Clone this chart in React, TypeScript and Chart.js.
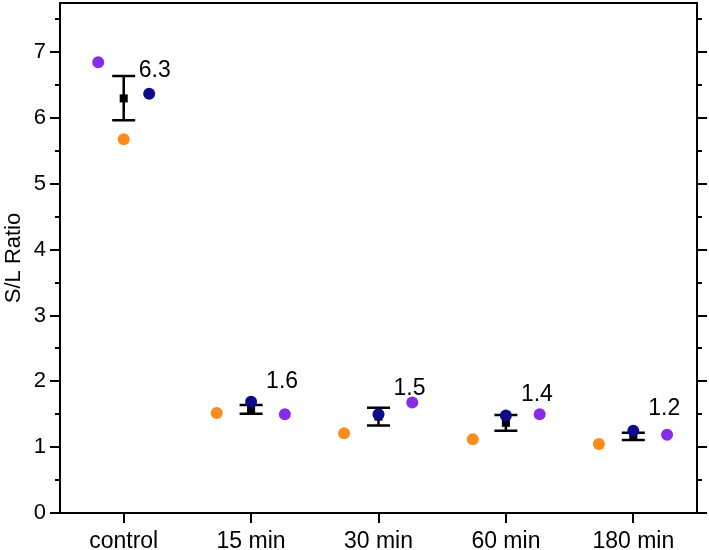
import React, { useEffect, useRef } from 'react';
import { Chart, registerables } from 'chart.js';

Chart.register(...registerables);

const categories = ['control', '15 min', '30 min', '60 min', '180 min'];
const meanValues = [6.3, 1.575, 1.465, 1.37, 1.165];
const errLow = [5.97, 1.51, 1.33, 1.25, 1.11];
const errHigh = [6.64, 1.64, 1.6, 1.49, 1.22];
const meanLabels = ['6.3', '1.6', '1.5', '1.4', '1.2'];
const orangeValues = [5.68, 1.52, 1.21, 1.12, 1.05];
const blueValues = [6.37, 1.69, 1.5, 1.48, 1.25];
const purpleValues = [6.85, 1.5, 1.68, 1.5, 1.19];
const orangeJitter = [0, -0.27, -0.27, -0.26, -0.27];
const blueJitter = [0.2, 0, 0, 0, 0];
const purpleJitter = [-0.2, 0.265, 0.265, 0.265, 0.265];
const yMajorTicks = [0, 1, 2, 3, 4, 5, 6, 7];
const yMinorTicks = [0.5, 1.5, 2.5, 3.5, 4.5, 5.5, 6.5, 7.5];
const yMin = 0;
const yMax = 7.75;

const FONT = 'Arial, "Liberation Sans", sans-serif';

const framePlugin = {
  id: 'frameAndErrors',
  beforeDatasetsDraw(chart: any) {
    const { ctx } = chart;
    const xs = chart.scales.x;
    const ys = chart.scales.y;
    ctx.save();
    ctx.strokeStyle = '#000';
    ctx.lineWidth = 2.5;
    categories.forEach((_, i) => {
      const px = xs.getPixelForValue(i);
      const top = ys.getPixelForValue(errHigh[i]);
      const bot = ys.getPixelForValue(errLow[i]);
      ctx.beginPath();
      ctx.moveTo(px, top);
      ctx.lineTo(px, bot);
      ctx.moveTo(px - 11.5, top);
      ctx.lineTo(px + 11.5, top);
      ctx.moveTo(px - 11.5, bot);
      ctx.lineTo(px + 11.5, bot);
      ctx.stroke();
    });
    ctx.restore();
  },
  afterDatasetsDraw(chart: any) {
    const { ctx } = chart;
    const xs = chart.scales.x;
    const ys = chart.scales.y;
    ctx.save();
    ctx.fillStyle = '#000';
    ctx.font = `23px ${FONT}`;
    ctx.textAlign = 'center';
    ctx.textBaseline = 'middle';
    categories.forEach((_, i) => {
      const px = xs.getPixelForValue(i);
      const py = ys.getPixelForValue(meanValues[i]);
      ctx.fillText(meanLabels[i], px + 31, py - 28);
    });
    ctx.restore();
  },
  afterDraw(chart: any) {
    const { ctx, chartArea } = chart;
    const ys = chart.scales.y;
    const { left, right, top, bottom } = chartArea;
    ctx.save();
    ctx.strokeStyle = '#000';
    ctx.lineWidth = 2;
    ctx.beginPath();
    ctx.moveTo(left - 1, top);
    ctx.lineTo(right, top);
    ctx.lineTo(right, bottom + 1);
    ctx.stroke();
    ctx.beginPath();
    yMinorTicks.forEach((v) => {
      const py = Math.round(ys.getPixelForValue(v));
      ctx.moveTo(left - 5, py);
      ctx.lineTo(left, py);
      ctx.moveTo(right, py);
      ctx.lineTo(right + 5, py);
    });
    yMajorTicks.forEach((v) => {
      const py = Math.round(ys.getPixelForValue(v));
      ctx.moveTo(right, py);
      ctx.lineTo(right + 10, py);
    });
    ctx.stroke();
    ctx.restore();
  },
};

export default function App() {
  const ref = useRef<HTMLCanvasElement | null>(null);
  useEffect(() => {
    if (!ref.current) return;
    const pts = (vals: number[], jit: number[]) => vals.map((v, i) => ({ x: i + jit[i], y: v }));
    const chart = new Chart(ref.current, {
      type: 'scatter',
      data: {
        datasets: [
          {
            label: 'blue',
            data: pts(blueValues, blueJitter),
            backgroundColor: '#0B0B8C',
            borderWidth: 0,
            pointRadius: 6,
            order: 0,
          },
          {
            label: 'purple',
            data: pts(purpleValues, purpleJitter),
            backgroundColor: '#8A2BE8',
            borderWidth: 0,
            pointRadius: 6,
            order: 1,
          },
          {
            label: 'orange',
            data: pts(orangeValues, orangeJitter),
            backgroundColor: '#FF8C1A',
            borderWidth: 0,
            pointRadius: 6,
            order: 2,
          },
          {
            label: 'mean',
            data: meanValues.map((v, i) => ({ x: i, y: v })),
            backgroundColor: '#000',
            borderWidth: 0,
            pointStyle: 'rect',
            pointRadius: 5.7,
            order: 3,
          },
        ],
      },
      options: {
        responsive: false,
        animation: false,
        devicePixelRatio: 1,
        layout: { autoPadding: false, padding: { top: 3, right: 12, left: 0, bottom: 0 } },
        plugins: { legend: { display: false }, tooltip: { enabled: false } },
        scales: {
          x: {
            type: 'linear',
            min: -0.5,
            max: categories.length - 0.5,
            afterBuildTicks: (s: any) => {
              s.ticks = categories.map((_, i) => ({ value: i }));
            },
            afterFit: (s: any) => {
              s.height = 37;
              s.paddingLeft = 0;
              s.paddingRight = 0;
            },
            ticks: {
              autoSkip: false,
              maxRotation: 0,
              padding: 5,
              color: '#000',
              font: { family: FONT, size: 23 },
              callback: (v: any) => categories[Math.round(Number(v))] ?? '',
            },
            grid: { drawOnChartArea: false, drawTicks: true, tickLength: 10, color: '#000', lineWidth: 2 },
            border: { display: true, color: '#000', width: 2 },
          },
          y: {
            type: 'linear',
            min: yMin,
            max: yMax,
            afterBuildTicks: (s: any) => {
              s.ticks = yMajorTicks.map((v) => ({ value: v }));
            },
            afterFit: (s: any) => {
              s.width = 60;
              s.paddingTop = 0;
              s.paddingBottom = 0;
            },
            title: {
              display: true,
              text: 'S/L Ratio',
              color: '#000',
              font: { family: FONT, size: 22 },
              padding: { top: 1, bottom: 0 },
            },
            ticks: {
              padding: 4,
              color: '#000',
              font: { family: FONT, size: 22 },
            },
            grid: { drawOnChartArea: false, drawTicks: true, tickLength: 10, color: '#000', lineWidth: 2 },
            border: { display: true, color: '#000', width: 2 },
          },
        },
      },
      plugins: [framePlugin],
    });
    return () => chart.destroy();
  }, []);
  return (
    <div style={{ position: 'fixed', left: 0, top: 0, width: 709, height: 550, background: '#fff' }}>
      <canvas ref={ref} width={709} height={550} style={{ display: 'block' }} />
    </div>
  );
}
